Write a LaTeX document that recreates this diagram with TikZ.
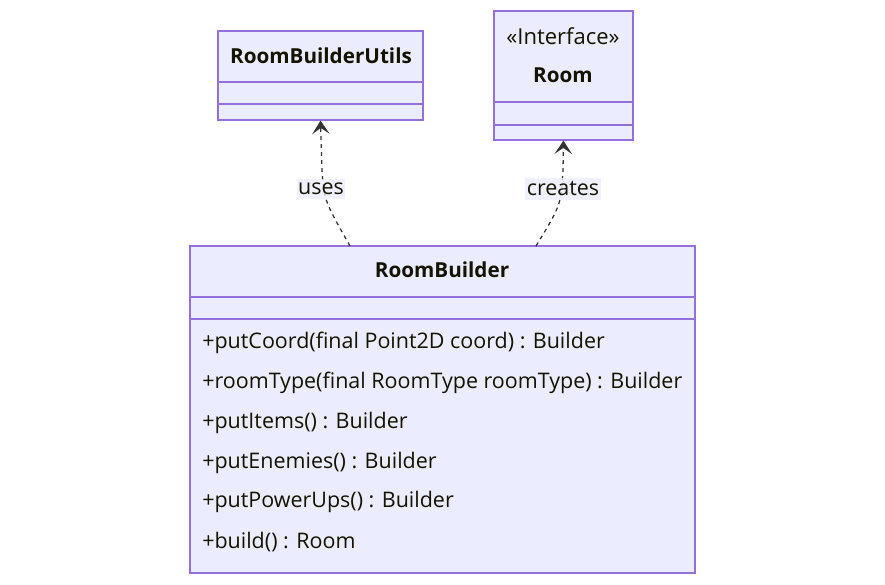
\documentclass[tikz,border=0pt]{standalone}
\usepackage{fontspec}
\setmainfont{Open Sans}
\usepackage{xcolor}
\usetikzlibrary{arrows.meta, positioning, fit}

\definecolor{classfill}{HTML}{ECECFF}
\definecolor{classline}{HTML}{9370DB}
\definecolor{ink}{HTML}{131300}
\definecolor{edgeink}{HTML}{333333}

\tikzset{
    classbox/.style={draw=classline, fill=classfill, line width=0.9pt, inner sep=0pt},
    divider/.style={classline, line width=0.9pt},
    classtitle/.style={font=\bfseries\fontsize{15.5}{19}\selectfont, text=ink, inner sep=0pt},
    member/.style={anchor=west, font=\fontsize{16.1}{19}\selectfont, text=ink, inner sep=0pt},
    dep/.style={edgeink, dash pattern=on 3pt off 3pt, line width=0.95pt,
        -{Stealth[length=10pt, width=13pt, inset=4.5pt]}},
    edgelabel/.style={fill=classfill, fill opacity=0.8, text opacity=1, text=ink,
        font=\fontsize{16.1}{19}\selectfont, inner xsep=1pt, inner ysep=3pt}
}

\begin{document}
\begin{tikzpicture}[x=0.75pt, y=-0.75pt]
    \useasboundingbox (0,0) rectangle (885,585);

    % the three classes
    \node (utils) [classbox, fit={(218,31) (423,120)}] {};
    \draw[divider] (218,82) -- (423,82);
    \draw[divider] (218,104) -- (423,104);
    \node (utilsName) at (321,56) [classtitle] {RoomBuilderUtils};

    \node (room) [classbox, fit={(494,11) (633,140)}] {};
    \draw[divider] (494,102) -- (633,102);
    \draw[divider] (494,125) -- (633,125);
    \node (roomKind) at (563,36) [classtitle, font=\fontsize{16.5}{19}\selectfont] {«Interface»};
    \node (roomName) at (563,75) [classtitle] {Room};

    \node (rb) [classbox, fit={(190,246) (695,573)}] {};
    \draw[divider] (190,297) -- (695,297);
    \draw[divider] (190,319) -- (695,319);
    \node (rbName) at (442,270) [classtitle] {RoomBuilder};
    \foreach \y/\n/\m in {343/a/{+putCoord(final Point2D coord) : Builder},
                          383/b/{+roomType(final RoomType roomType) : Builder},
                          423/c/{+putItems() : Builder},
                          463/d/{+putEnemies() : Builder},
                          502/e/{+putPowerUps() : Builder},
                          542/f/{+build() : Room}} {
        \node (m\n) at (202,\y) [member] {\m};
    }

    % dependencies
    \coordinate (usesFoot) at (350,246);
    \coordinate (createsFoot) at (536,246);
    \draw[dep] (usesFoot) .. controls (324,200) .. (322,170) -- (utils.south);
    \draw[dep] (createsFoot) .. controls (561,205) .. (563,170) -- (room.south);
    \node (uses) at (321,189) [edgelabel] {uses};
    \node (creates) at (563,189) [edgelabel] {creates};
\end{tikzpicture}
\end{document}
